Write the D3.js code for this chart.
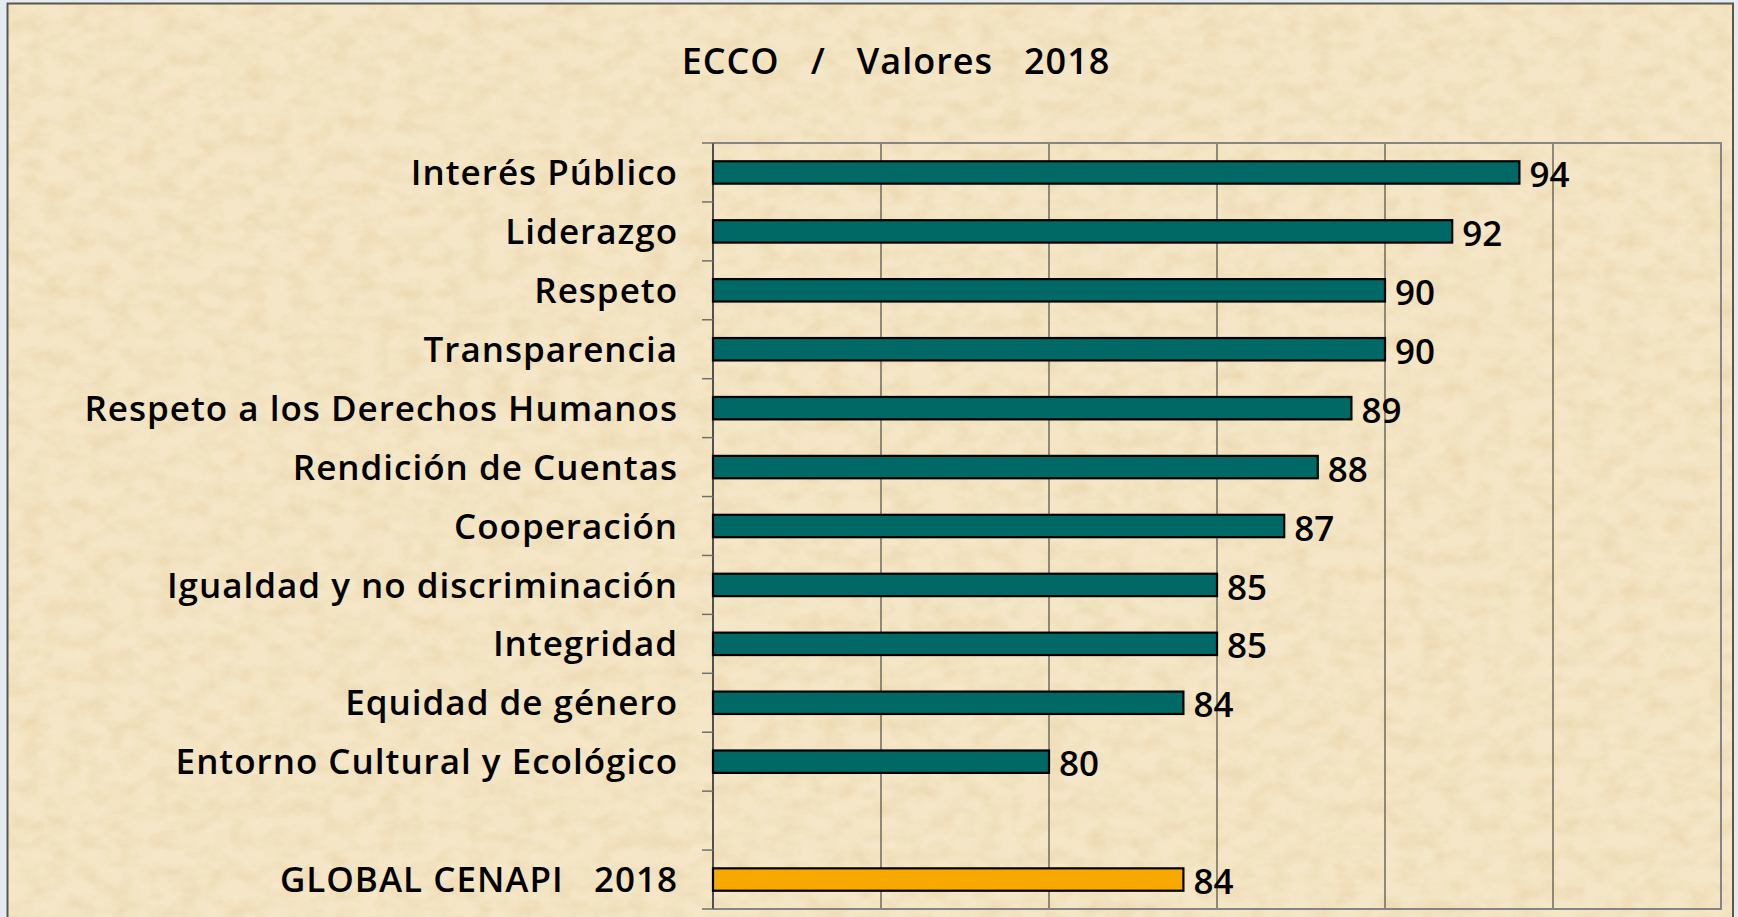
<!DOCTYPE html>
<html>
<head>
<meta charset="utf-8">
<script src="https://cdn.jsdelivr.net/npm/d3@7"></script>
<style>
  html, body { margin: 0; padding: 0; background: #e6ebf2; overflow: hidden; }
  svg { display: block; }
  text { font-family: "Open Sans", Lato, sans-serif; fill: #000; }
</style>
</head>
<body>
<svg id="chart" width="1738" height="917"></svg>
<script>
// chart data
var title = "ECCO   /   Valores   2018";
var categories = [
  "Interés Público",
  "Liderazgo",
  "Respeto",
  "Transparencia",
  "Respeto a los Derechos Humanos",
  "Rendición de Cuentas",
  "Cooperación",
  "Igualdad y no discriminación",
  "Integridad",
  "Equidad de género",
  "Entorno Cultural y Ecológico",
  "",
  "GLOBAL CENAPI   2018"
];
var values = [94, 92, 90, 90, 89, 88, 87, 85, 85, 84, 80, null, 84];
var globalLabel = "GLOBAL CENAPI   2018";
var xTicks = [70, 75, 80, 85, 90, 95, 100];

var svg = d3.select("#chart"),
  width = +svg.attr("width"),
  height = +svg.attr("height");

var plot = { left: 713, right: 1721, top: 143, bottom: 909 };

// parchment texture
var defs = svg.append("defs");
var filter = defs.append("filter").attr("id", "paper")
  .attr("x", 0).attr("y", 0).attr("width", "100%").attr("height", "100%");
filter.append("feTurbulence")
  .attr("type", "fractalNoise")
  .attr("baseFrequency", "0.045 0.06")
  .attr("numOctaves", 5)
  .attr("seed", 11)
  .attr("result", "noise");
filter.append("feColorMatrix")
  .attr("in", "noise")
  .attr("type", "matrix")
  .attr("values", "0 0 0 0 0.82  0 0 0 0 0.66  0 0 0 0 0.40  1.3 0 0 0 -0.5");

var frame = svg.append("g");
frame.append("rect")
  .attr("x", 7.5).attr("y", 3.5)
  .attr("width", 1733 - 7.5).attr("height", height)
  .attr("fill", "#f4e6c6");
frame.append("rect")
  .attr("x", 7.5).attr("y", 3.5)
  .attr("width", 1733 - 7.5).attr("height", height)
  .attr("filter", "url(#paper)");
frame.append("rect")
  .attr("x", 7.5).attr("y", 3.5)
  .attr("width", 1733 - 7.5).attr("height", height)
  .attr("fill", "none")
  .attr("stroke", "#5b564a")
  .attr("stroke-width", 2);

// scales
var x = d3.scaleLinear().domain([70, 100]).range([plot.left, plot.right]);
var y = d3.scaleBand()
  .domain(categories)
  .range([plot.top, plot.bottom])
  .paddingInner(0.62)
  .paddingOuter(0.31);

// title
svg.append("text")
  .attr("x", 896)
  .attr("y", 74)
  .attr("text-anchor", "middle")
  .attr("xml:space", "preserve")
  .style("white-space", "pre")
  .style("font-size", "36px")
  .style("font-weight", 600)
  .style("letter-spacing", "1px")
  .text(title);

// vertical gridlines
svg.append("g")
  .selectAll("line")
  .data(xTicks.slice(1, -1))
  .enter()
  .append("line")
  .attr("x1", function (d) { return x(d); })
  .attr("x2", function (d) { return x(d); })
  .attr("y1", plot.top)
  .attr("y2", plot.bottom)
  .attr("stroke", "#5a5650")
  .attr("stroke-width", 1.3);

// plot frame (top, right, bottom)
svg.append("path")
  .attr("d", "M" + plot.left + "," + plot.top + "H" + plot.right + "V" + plot.bottom + "H" + plot.left)
  .attr("fill", "none")
  .attr("stroke", "#858585")
  .attr("stroke-width", 2);

// category axis with ticks on band boundaries
var yAxis = svg.append("g");
yAxis.append("line")
  .attr("x1", plot.left).attr("x2", plot.left)
  .attr("y1", plot.top).attr("y2", plot.bottom)
  .attr("stroke", "#505050")
  .attr("stroke-width", 2);
yAxis.selectAll(".tick")
  .data(d3.range(categories.length + 1))
  .enter()
  .append("line")
  .attr("class", "tick")
  .attr("x1", plot.left - 11).attr("x2", plot.left)
  .attr("y1", function (i) { return plot.top + i * y.step(); })
  .attr("y2", function (i) { return plot.top + i * y.step(); })
  .attr("stroke", "#707070")
  .attr("stroke-width", 1.5);

yAxis.selectAll(".label")
  .data(categories)
  .enter()
  .append("text")
  .attr("class", "label")
  .attr("x", plot.left - 35)
  .attr("y", function (d) { return y(d) + y.bandwidth() / 2; })
  .attr("dy", "0.36em")
  .attr("text-anchor", "end")
  .attr("xml:space", "preserve")
  .style("white-space", "pre")
  .style("font-size", "35px")
  .style("font-weight", 600)
  .style("letter-spacing", "1px")
  .text(function (d) { return d; });

// bars
var rows = categories.map(function (c, i) { return { name: c, value: values[i] }; })
  .filter(function (d) { return d.value !== null; });

svg.append("g")
  .selectAll("rect")
  .data(rows)
  .enter()
  .append("rect")
  .attr("x", x(70))
  .attr("y", function (d) { return y(d.name); })
  .attr("width", function (d) { return x(d.value) - x(70); })
  .attr("height", y.bandwidth())
  .attr("fill", function (d) { return d.name === globalLabel ? "#f7a900" : "#006966"; })
  .attr("stroke", "#000")
  .attr("stroke-width", 2.2);

// value labels
svg.append("g")
  .selectAll("text")
  .data(rows)
  .enter()
  .append("text")
  .attr("x", function (d) { return x(d.value) + 10; })
  .attr("y", function (d) { return y(d.name) + y.bandwidth() / 2 + 2; })
  .attr("dy", "0.36em")
  .style("font-size", "35px")
  .style("font-weight", 600)
  .text(function (d) { return d.value; });
</script>
</body>
</html>
